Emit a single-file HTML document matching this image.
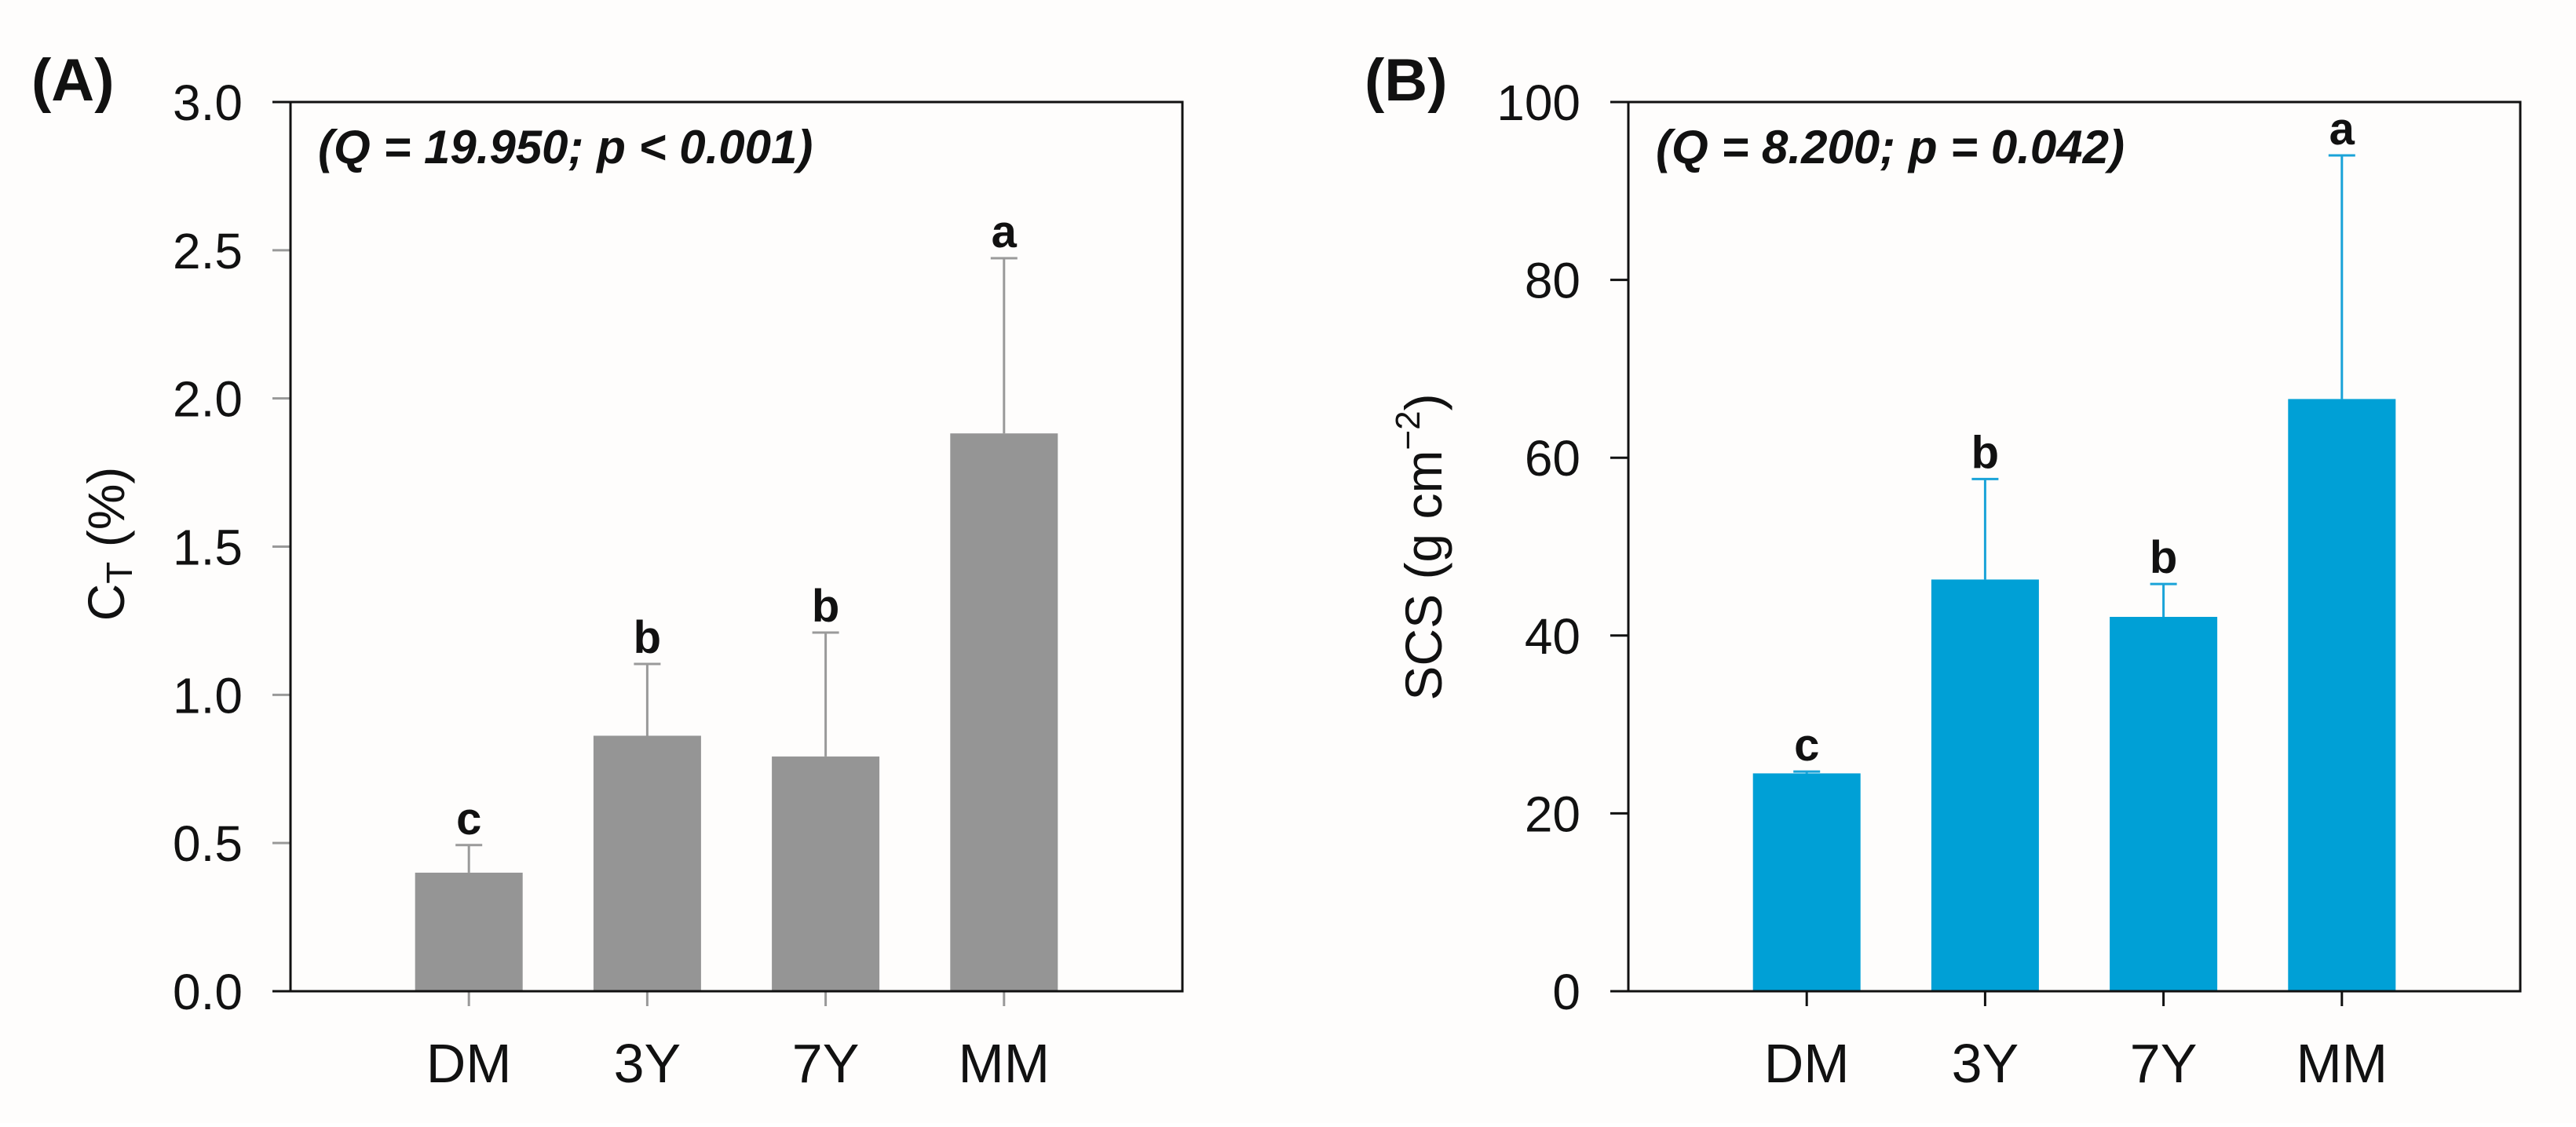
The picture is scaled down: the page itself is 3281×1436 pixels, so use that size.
<!DOCTYPE html>
<html><head><meta charset="utf-8"><style>
html,body{margin:0;padding:0;background:#fff;}
svg text{font-family:"Liberation Sans",Arial,sans-serif;}
</style></head><body>
<svg id="fig" width="3281" height="1431" viewBox="0 0 3281 1431" xmlns="http://www.w3.org/2000/svg">
<rect x="0" y="0" width="3281" height="1431" fill="#fefdfc"/>
</svg>
<script>
const categories = ["DM","3Y","7Y","MM"];
const ctValues = [0.40, 0.862, 0.792, 1.882];
const ctErrors = [0.093, 0.242, 0.418, 0.591];
const ctLetters = ["c","b","b","a"];
const ctTicks = [0, 0.5, 1.0, 1.5, 2.0, 2.5, 3.0];
const ctTickLabels = ["0.0","0.5","1.0","1.5","2.0","2.5","3.0"];
const scsValues = [24.5, 46.3, 42.1, 66.6];
const scsErrors = [0.2, 11.3, 3.7, 27.4];
const scsLetters = ["c","b","b","a"];
const scsTicks = [0, 20, 40, 60, 80, 100];
const scsTickLabels = ["0","20","40","60","80","100"];

const NS = "http://www.w3.org/2000/svg";
const svg = document.getElementById("fig");
function mk(tag, attrs, parent){
  const e = document.createElementNS(NS, tag);
  for (const k in attrs) e.setAttribute(k, attrs[k]);
  (parent||svg).appendChild(e);
  return e;
}
function panel(p){
  const g = mk("g", {});
  
  
  const top = 130, bot = 1263, L = p.left, R = p.left + 1136;
  const ys = v => bot - (v - 0) / p.ymax * (bot - top);
  const xs = i => L + (i + 1) * (R - L) / 5;
  const bw = 137;
  // bars
  p.values.forEach((v, i) => {
    const eTop = ys(v + p.errors[i]);
    const el = mk("line", {x1:xs(i), x2:xs(i), y1:ys(v), y2:eTop, stroke:p.err, "stroke-width":3}, g);
    
    
    const cap = mk("line", {x1:xs(i)-17, x2:xs(i)+17, y1:eTop, y2:eTop, stroke:p.err, "stroke-width":3}, g);
    
    
    const r = mk("rect", {x:xs(i)-bw/2, y:ys(v), width:bw, height:bot-ys(v), fill:p.fill}, g);
    
    
    const t = mk("text", {x:xs(i), y:eTop-14, "text-anchor":"middle", "font-size":58, "font-weight":"bold", fill:"#111"}, g);
    t.textContent = p.letters[i];
    
    
    const tk = mk("line", {x1:xs(i), x2:xs(i), y1:bot, y2:bot+19, stroke:p.tick, "stroke-width":3}, g);
    
    
    const xl = mk("text", {x:xs(i), y:1379, "text-anchor":"middle", "font-size":70, fill:"#111"}, g);
    xl.textContent = categories[i];
    
    
  });
  // y ticks
  p.ticks.forEach((v, i) => {
    const tk = mk("line", {x1:L-23, x2:L, y1:ys(v), y2:ys(v), stroke:(v===0||i===p.ticks.length-1)?"#111":p.tick, "stroke-width":3}, g);
    
    
    const tl = mk("text", {x:L-61, y:ys(v)+23, "text-anchor":"end", "font-size":64, fill:"#111"}, g);
    tl.textContent = p.tickLabels[i];
    
    
  });
  // frame
  const fr = mk("rect", {x:L, y:top, width:R-L, height:bot-top, fill:"none", stroke:"#111", "stroke-width":3}, g);
  
  
  const st = mk("text", {x:L+35, y:208, "font-size":60, "font-weight":"bold", "font-style":"italic", fill:"#111"}, g);
  st.textContent = p.stat;
  
  
  const pl = mk("text", {x:p.labelX, y:128, "font-size":76, "font-weight":"bold", fill:"#111"}, g);
  pl.textContent = p.label;
  
  
  return g;
}
panel({name:"panel-a-ct", left:370, ymax:3, values:ctValues, errors:ctErrors, letters:ctLetters, ticks:ctTicks, tickLabels:ctTickLabels, fill:"#959595", err:"#9a9a9a", tick:"#999", stat:"(Q = 19.950; p < 0.001)", label:"(A)", labelX:40});
panel({name:"panel-b-scs", left:2074, ymax:100, values:scsValues, errors:scsErrors, letters:scsLetters, ticks:scsTicks, tickLabels:scsTickLabels, fill:"#00a0d6", err:"#1aa3d8", tick:"#111", stat:"(Q = 8.200; p = 0.042)", label:"(B)", labelX:1738});
// y axis titles
const ya = mk("text", {transform:"translate(158,693) rotate(-90)", "text-anchor":"middle", "font-size":66, fill:"#111"});
ya.innerHTML = 'C<tspan font-size="46" dy="10">T</tspan><tspan dy="-10">  (%)</tspan>';


const yb = mk("text", {transform:"translate(1836,697) rotate(-90)", "text-anchor":"middle", "font-size":66, fill:"#111"});
yb.innerHTML = 'SCS (g cm<tspan font-size="44" dy="-28">−2</tspan><tspan dy="28">)</tspan>';


</script>
</body></html>
